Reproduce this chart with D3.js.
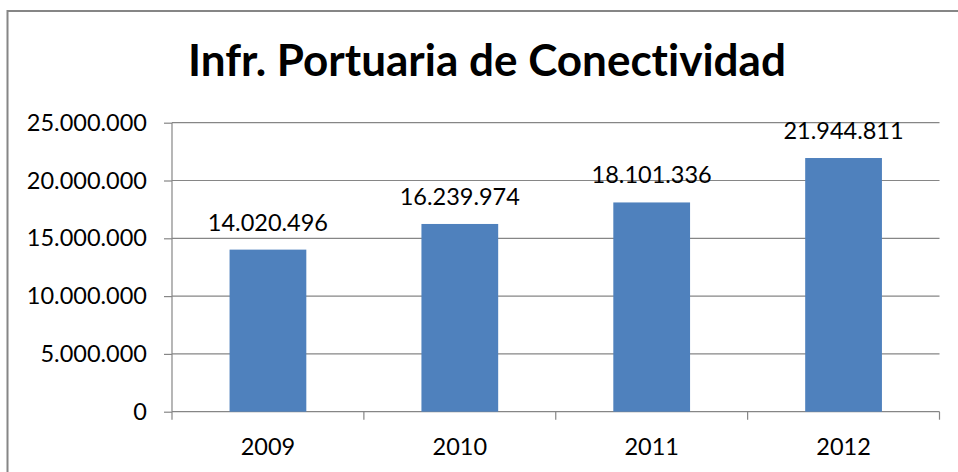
<!DOCTYPE html>
<html>
<head>
<meta charset="utf-8">
<script src="https://cdn.jsdelivr.net/npm/d3@7"></script>
<style>
  body { margin: 0; background: #fff; }
  svg { display: block; font-family: Lato, "Open Sans", sans-serif; font-variant-ligatures: none; }
</style>
</head>
<body>
<div id="chart"></div>
<script>
const years = ["2009", "2010", "2011", "2012"];
const values = [14020496, 16239974, 18101336, 21944811];
const yTicks = [0, 5000000, 10000000, 15000000, 20000000, 25000000];
const chartTitle = "Infr. Portuaria de Conectividad";

const W = 958, H = 472;
const margin = { top: 122.7, left: 172, right: 18.5, bottom: 60.3 };
const width = W - margin.left - margin.right;
const height = H - margin.top - margin.bottom;
const grey = "#868686";

const locale = d3.formatLocale({ decimal: ",", thousands: ".", grouping: [3], currency: ["", ""] });
const fmt = locale.format(",d");

const svg = d3.select("#chart").append("svg")
    .attr("width", W)
    .attr("height", H);

// outer frame (only left and top visible in the crop)
svg.append("path")
    .attr("d", `M7.5,${H} V11 H${W}`)
    .attr("fill", "none")
    .attr("stroke", grey)
    .attr("stroke-width", 2);

const title = svg.append("text")
    .attr("x", 487)
    .attr("y", 76)
    .attr("text-anchor", "middle")
    .style("font-weight", 700)
    .style("font-size", "42px")
    .text(chartTitle);
// squeeze the title to the reference width
const tLen = title.node().getComputedTextLength();
title.style("font-size", (42 * 598 / tLen) + "px");

const g = svg.append("g")
    .attr("transform", `translate(${margin.left}, ${margin.top})`);

const x = d3.scaleBand()
    .domain(years)
    .range([0, width])
    .paddingInner(0.6)
    .paddingOuter(0.3);

const y = d3.scaleLinear()
    .domain([0, 25000000])
    .range([height, 0]);

// gridlines
g.append("g")
    .selectAll("line")
    .data(yTicks.slice(1))
    .enter().append("line")
    .attr("x1", 0)
    .attr("x2", width)
    .attr("y1", d => y(d))
    .attr("y2", d => y(d))
    .attr("stroke", grey)
    .attr("stroke-width", 1.2);

// y axis
const yAxis = g.append("g")
    .call(d3.axisLeft(y).tickValues(yTicks).tickSize(8).tickPadding(17).tickFormat(fmt));
yAxis.selectAll("line, path").attr("stroke", grey).attr("stroke-width", 1.2);
yAxis.select(".domain").attr("d", `M0,${height}V0`);
yAxis.selectAll("text")
    .attr("fill", "#000")
    .style("font-family", "Lato, sans-serif")
    .style("font-size", "23.5px");

// x axis: ticks on band boundaries like the original
const step = x.step();
const bounds = d3.range(years.length + 1).map(i => i * step);
const xAxisG = g.append("g").attr("transform", `translate(0, ${height})`);
xAxisG.append("line")
    .attr("x1", 0).attr("x2", width)
    .attr("stroke", grey).attr("stroke-width", 1.2);
xAxisG.selectAll("line.tick")
    .data(bounds)
    .enter().append("line")
    .attr("class", "tick")
    .attr("x1", d => d).attr("x2", d => d)
    .attr("y1", 0).attr("y2", 8)
    .attr("stroke", grey).attr("stroke-width", 1.2);
xAxisG.selectAll("text")
    .data(years)
    .enter().append("text")
    .attr("x", d => x(d) + x.bandwidth() / 2)
    .attr("y", 43)
    .attr("text-anchor", "middle")
    .style("font-size", "23.5px")
    .text(d => d);

// bars
g.selectAll("rect.bar")
    .data(years)
    .enter().append("rect")
    .attr("class", "bar")
    .attr("x", d => x(d))
    .attr("width", x.bandwidth())
    .attr("y", (d, i) => y(values[i]))
    .attr("height", (d, i) => height - y(values[i]))
    .attr("fill", "#4F81BD");

// value labels
g.selectAll("text.val")
    .data(years)
    .enter().append("text")
    .attr("class", "val")
    .attr("x", d => x(d) + x.bandwidth() / 2)
    .attr("y", (d, i) => y(values[i]) - 19)
    .attr("text-anchor", "middle")
    .style("font-size", "23.5px")
    .text((d, i) => fmt(values[i]));
</script>
</body>
</html>
